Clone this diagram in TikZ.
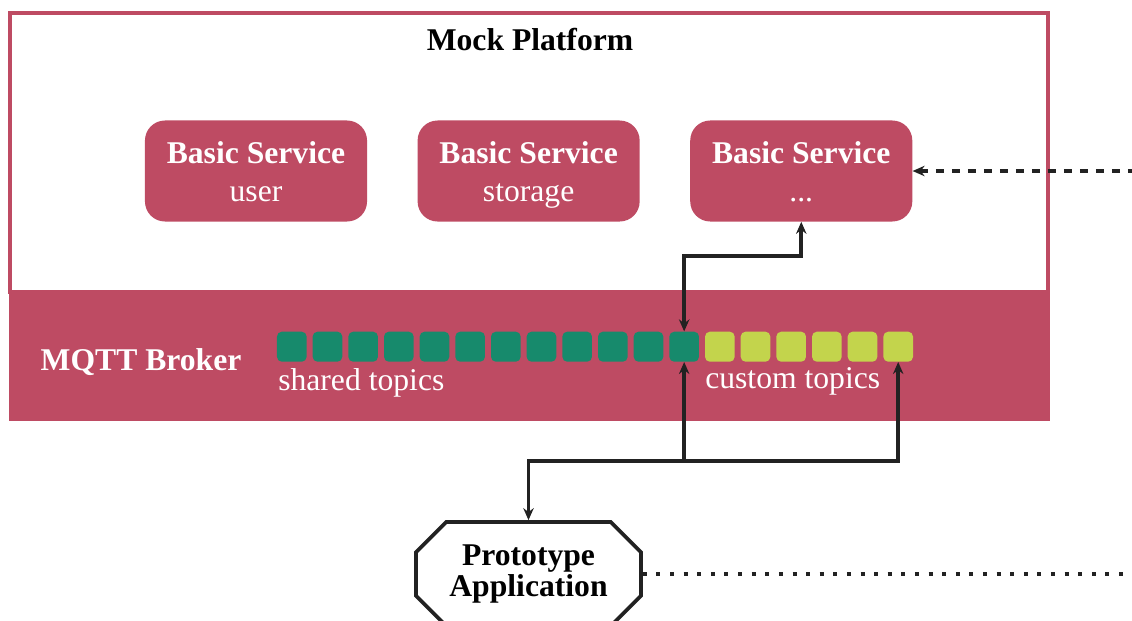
\documentclass[tikz,border=0pt]{standalone}
\usepackage{fontspec}
\setmainfont{Liberation Serif}
\usetikzlibrary{positioning,shapes.misc,arrows.meta}

\definecolor{rose}{RGB}{190,75,99}
\definecolor{sharedgreen}{RGB}{23,138,108}
\definecolor{customlime}{RGB}{195,212,76}
\definecolor{ink}{RGB}{34,34,34}

% two-line service label
\newcommand{\svclabel}[1]{\textbf{Basic Service}\rule{0pt}{24pt}\\#1\strut}

\begin{document}
\begin{tikzpicture}[x=0.025cm, y=-0.025cm, node distance={1.25cm},
        >={Stealth[length=0.3cm, width=0.26cm]},
        txt/.style = {font=\fontsize{22.5}{27}\selectfont},
        bold/.style = {font=\fontsize{22.5}{27}\selectfont\bfseries},
        service/.style = {txt, fill=rose, text=white, rounded corners=0.5cm, minimum width=5.55cm, minimum height=2.525cm, align=center},
        topic/.style = {rounded corners=0.12cm, minimum width=0.74cm, minimum height=0.75cm, inner sep=0pt},
        link/.style = {draw=ink, line width=2.6pt},
        dashline/.style = {link, dash pattern=on 0.2cm off 0.2cm},
        dotline/.style = {link, dash pattern=on 0.1cm off 0.24cm}]
    \useasboundingbox (0,0) rectangle (1132,620);

    % platform frame and broker band
    \draw[rose, line width=2.4pt] (10,13) rectangle (1048,292);
    \fill[rose] (9,291) rectangle (1050,421);
    \node[bold, anchor=base] (platform) at (530,50) {Mock Platform};
    \node[bold, text=white, anchor=base] (broker) at (141,370) {MQTT Broker};

    % basic services
    \node[service] (svc1) at (256,171) {\svclabel{user}};
    \node[service] (svc2) [right=of svc1] {\svclabel{storage}};
    \node[service] (svc3) [right=of svc2] {\svclabel{...}};

    % topics: 12 shared, 6 custom
    \foreach \i in {1,...,18} {
        \ifnum\i<13 \def\tc{sharedgreen}\else\def\tc{customlime}\fi
        \node[topic, fill=\tc] (t\i) at ({291.8+35.67*(\i-1)}, 346.7) {};
    }
    \node[txt, text=white, anchor=base west, inner sep=0pt] (shared) at (278,390) {shared topics};
    \node[txt, text=white, anchor=base west, inner sep=0pt] (custom) at (705,388) {custom topics};

    % prototype
    \node[font=\fontsize{22.5}{21.5}\selectfont\bfseries, draw=ink, line width=2.6pt, chamfered rectangle, chamfered rectangle xsep=0.65cm,
          minimum width=5.625cm, minimum height=2.6cm, align=center] (proto) at (528.5,574) {Prototype\\Application};

    \coordinate (rim) at (1132,0);
    \coordinate (bus) at (0,461);

    \draw[link, <->] (svc3.south) -- ++(0,34) -| (t12.north);
    \draw[link, <->] (proto.north) |- (t18.south |- bus) -- (t18.south);
    \draw[link, ->] (t12.south |- bus) -- (t12.south);
    \draw[dashline, <-] (svc3.east) -- (svc3.east -| rim);
    \draw[dotline] (proto.east) -- (proto.east -| rim);
\end{tikzpicture}
\end{document}
